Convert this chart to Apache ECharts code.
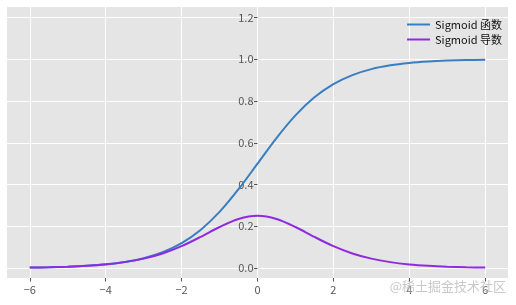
<!DOCTYPE html>
<html><head><meta charset="utf-8">
<script src="https://cdn.jsdelivr.net/npm/echarts@6/dist/echarts.min.js"></script>
<style>html,body{margin:0;padding:0;background:#fff}#c{width:516px;height:305px}</style>
</head><body><div id="c"></div>
<script>
var xs = [-6,-5.5,-5,-4.5,-4,-3.5,-3,-2.5,-2,-1.5,-1,-0.5,0,0.5,1,1.5,2,2.5,3,3.5,4,4.5,5,5.5,6];
var sigmoidVals = [0.0025,0.0041,0.0067,0.0110,0.0180,0.0293,0.0474,0.0759,0.1192,0.1824,0.2689,0.3775,0.5,
  0.6225,0.7311,0.8176,0.8808,0.9241,0.9526,0.9707,0.9820,0.9890,0.9933,0.9959,0.9975];
var derivVals = [0.0025,0.0041,0.0066,0.0109,0.0177,0.0285,0.0452,0.0701,0.1050,0.1491,0.1966,0.2350,0.25,
  0.2350,0.1966,0.1491,0.1050,0.0701,0.0452,0.0285,0.0177,0.0109,0.0066,0.0041,0.0025];
var xTicks = [-6,-4,-2,0,2,4,6];
var yTicks = [0,0.2,0.4,0.6,0.8,1.0,1.2];
var seriesNames = ['Sigmoid 函数','Sigmoid 导数'];
var watermark = '@稀土掘金技术社区';

function pairs(v){ return xs.map(function(x,i){ return [x, v[i]]; }); }
var font = '"Noto Sans CJK SC","Noto Sans",sans-serif';
var W = 516, gLeft = 7, gRight = 8, xMin = -6.6, xMax = 6.6;
var zeroOffset = -((0 - xMin) / (xMax - xMin) * (W - gLeft - gRight));
var chart = echarts.init(document.getElementById('c'), null, {renderer:'canvas'});
chart.setOption({
  animation:false,
  backgroundColor:'#ffffff',
  grid:{left:gLeft,right:gRight,top:7,bottom:27,show:true,backgroundColor:'#E5E5E5',borderWidth:0,
    containLabel:false,outerBoundsMode:'none'},
  xAxis:{type:'value',min:xMin,max:xMax,
    axisLine:{show:false,onZero:false},
    axisTick:{show:true,customValues:xTicks,length:3.5,lineStyle:{color:'#555',width:1}},
    axisLabel:{customValues:xTicks,color:'#555',fontSize:11,fontFamily:font,margin:6,
      formatter:function(v){return String(v).replace('-','\u2212');}},
    splitLine:{show:true,lineStyle:{color:'#ffffff',width:1}}
  },
  yAxis:{type:'value',min:-0.0475,max:1.25,position:'left',offset:zeroOffset,
    axisLine:{show:false,onZero:false},
    axisTick:{show:true,customValues:yTicks,length:3.5,lineStyle:{color:'#555',width:1}},
    axisLabel:{customValues:yTicks,color:'#555',fontSize:11,fontFamily:font,margin:4,
      formatter:function(v){return v.toFixed(1);}},
    splitLine:{show:true,lineStyle:{color:'#ffffff',width:1}}
  },
  legend:{orient:'vertical',right:9,top:14,icon:'rect',itemWidth:23,itemHeight:2,itemGap:4,
    textStyle:{fontSize:11,color:'#111',fontFamily:font},
    data:seriesNames},
  series:[
    {name:seriesNames[0],type:'line',data:pairs(sigmoidVals),smooth:0.3,showSymbol:false,symbol:'none',
      lineStyle:{color:'#3A7EC2',width:2},itemStyle:{color:'#3A7EC2'}},
    {name:seriesNames[1],type:'line',data:pairs(derivVals),smooth:0.3,showSymbol:false,symbol:'none',
      lineStyle:{color:'#8E2BE0',width:2},itemStyle:{color:'#8E2BE0'}}
  ],
  graphic:[{type:'text',right:10,top:280,z:100,
    style:{text:watermark,fill:'rgba(190,190,190,0.85)',font:'13px '+font}}]
});
</script></body></html>
